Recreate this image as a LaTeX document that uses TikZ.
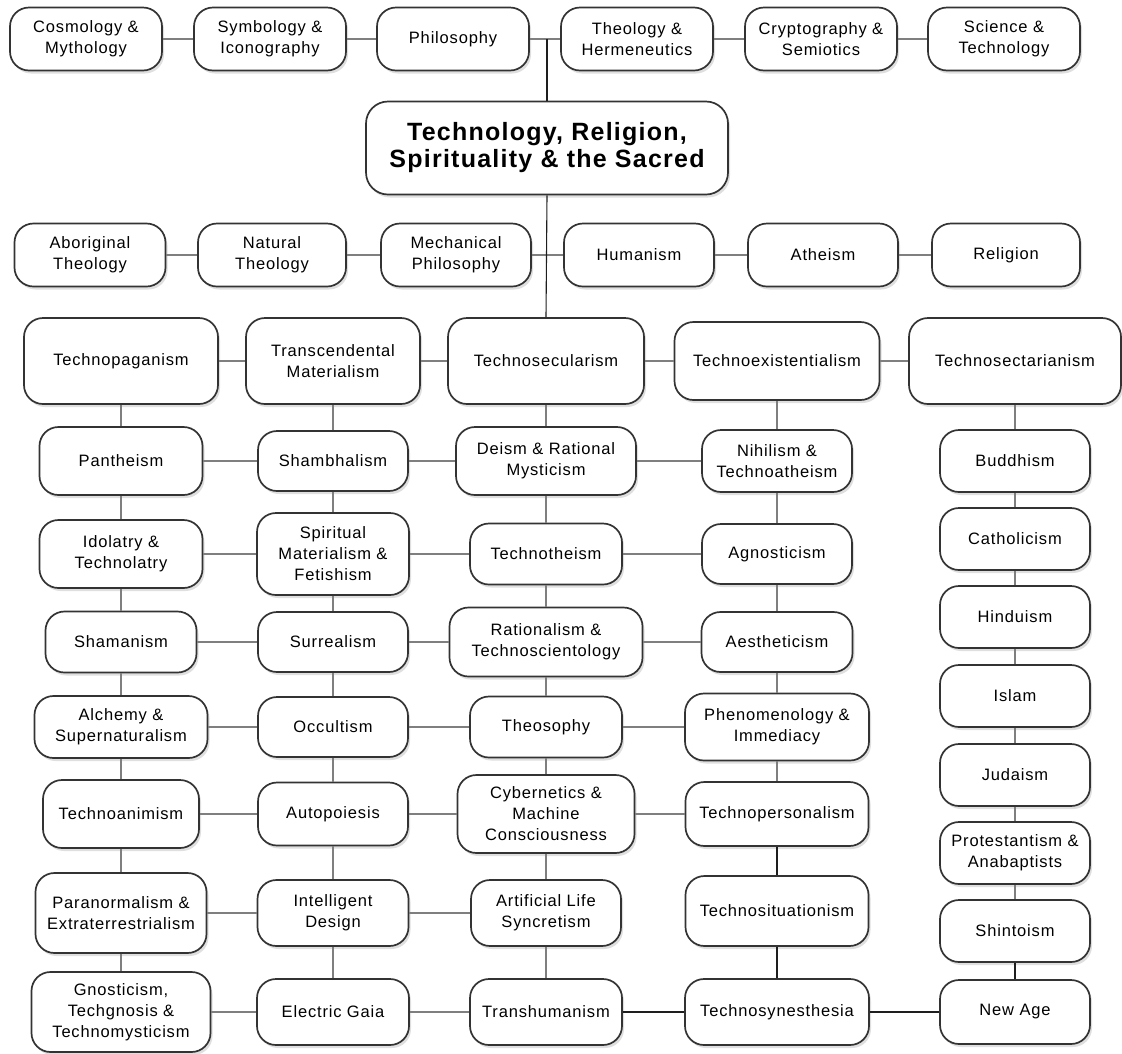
\documentclass[tikz,border=0pt]{standalone}
\usepackage{fontspec}
\setmainfont{Liberation Sans}[LetterSpace=5]
\usepackage{tikz}
\usetikzlibrary{shadows}
\definecolor{rim}{HTML}{333333}
\definecolor{wire}{HTML}{7F7F7F}
\definecolor{spine}{HTML}{1E1E1E}

\begin{document}
\begin{tikzpicture}[x=1pt,y=-1pt,
  box/.style={draw=rim,line width=1.7pt,fill=white,rounded corners=19pt,align=center,inner sep=0pt,
    font=\fontsize{16.5}{21}\selectfont,drop shadow={shadow xshift=2pt,shadow yshift=-3pt,fill=black!25}},
  link/.style={wire,line width=2.2pt},
  main/.style={spine,line width=1.1pt}]
\newcommand{\bx}[6]{\node[box,minimum width=#4pt,minimum height=#5pt] (#1) at (#2,#3) {#6};}
\useasboundingbox (0,0) rectangle (1122,1053);
% top row
\bx{cosmo}{86}{39}{152}{63}{Cosmology \&\\Mythology}
\bx{symb}{270}{39}{152}{63}{Symbology \&\\Iconography}
\bx{philo}{453}{39}{152}{63}{Philosophy}
\bx{theo}{637}{39}{152}{63}{Theology \&\\Hermeneutics}
\bx{crypt}{821}{39}{152}{63}{Cryptography \&\\Semiotics}
\bx{sci}{1004}{39}{152}{63}{Science \&\\Technology}
\node[box,rounded corners=22pt,minimum width=362pt,minimum height=93pt,font=\fontsize{25}{27}\selectfont\bfseries] (core) at (547,148) {Technology, Religion,\\Spirituality \& the Sacred};
% second row
\bx{abor}{90}{255}{151}{63}{Aboriginal\\Theology}
\bx{natth}{272}{255}{148}{63}{Natural\\Theology}
\bx{mech}{456}{255}{150}{63}{Mechanical\\Philosophy}
\bx{human}{639}{255}{150}{63}{Humanism}
\bx{athe}{823}{255}{150}{63}{Atheism}
\bx{relig}{1006}{255}{148}{63}{Religion}
% the five branches
\bx{tpag}{121}{361}{194}{86}{Technopaganism}
\bx{trans}{333}{361}{174}{86}{Transcendental\\Materialism}
\bx{tsec}{546}{361}{196}{86}{Technosecularism}
\bx{texist}{777}{361}{205}{78}{Technoexistentialism}
\bx{tsect}{1015}{361}{212}{86}{Technosectarianism}
% column 1
\bx{panth}{121}{461}{163}{68}{Pantheism}
\bx{idol}{121}{554}{163}{68}{Idolatry \&\\Technolatry}
\bx{shaman}{121}{642}{151}{61}{Shamanism}
\bx{alch}{121}{727}{173}{62}{Alchemy \&\\Supernaturalism}
\bx{tanim}{121}{814}{156}{68}{Technoanimism}
\bx{paran}{121}{913}{171}{80}{Paranormalism \&\\Extraterrestrialism}
\bx{gnost}{121}{1012}{179}{80}{Gnosticism,\\Techgnosis \&\\Technomysticism}
% column 2
\bx{shamb}{333}{461}{150}{60}{Shambhalism}
\bx{spirit}{333}{554}{152}{82}{Spiritual\\Materialism \&\\Fetishism}
\bx{surr}{333}{642}{150}{60}{Surrealism}
\bx{occ}{333}{727}{150}{60}{Occultism}
\bx{auto}{333}{814}{150}{63}{Autopoiesis}
\bx{intel}{333}{913}{151}{66}{Intelligent\\Design}
\bx{egaia}{333}{1012}{152}{66}{Electric Gaia}
% column 3
\bx{deism}{546}{461}{180}{68}{Deism \& Rational\\Mysticism}
\bx{ttheism}{546}{554}{152}{61}{Technotheism}
\bx{ration}{546}{642}{193}{69}{Rationalism \&\\Technoscientology}
\bx{theos}{546}{727}{152}{61}{Theosophy}
\bx{cyber}{546}{814}{177}{78}{Cybernetics \&\\Machine\\Consciousness}
\bx{alife}{546}{913}{150}{66}{Artificial Life\\Syncretism}
\bx{thuman}{546}{1012}{152}{66}{Transhumanism}
% column 4
\bx{nihil}{777}{461}{150}{62}{Nihilism \&\\Technoatheism}
\bx{agnos}{777}{554}{150}{60}{Agnosticism}
\bx{aesth}{777}{642}{151}{60}{Aestheticism}
\bx{phen}{777}{727}{184}{67}{Phenomenology \&\\Immediacy}
\bx{tpers}{777}{814}{183}{64}{Technopersonalism}
\bx{tsit}{777}{911}{183}{70}{Technosituationism}
\bx{tsyn}{777}{1012}{184}{66}{Technosynesthesia}
% column 5
\bx{budd}{1015}{461}{150}{62}{Buddhism}
\bx{cath}{1015}{539}{150}{62}{Catholicism}
\bx{hind}{1015}{617}{150}{62}{Hinduism}
\bx{islam}{1015}{696}{150}{62}{Islam}
\bx{juda}{1015}{775}{150}{62}{Judaism}
\bx{prot}{1015}{853}{150}{62}{Protestantism \&\\Anabaptists}
\bx{shin}{1015}{931}{150}{62}{Shintoism}
\bx{newage}{1015}{1012}{150}{64}{New Age}
% connectors
\foreach \a/\b in {cosmo/symb,symb/philo,philo/theo,theo/crypt,crypt/sci,
  abor/natth,natth/mech,mech/human,human/athe,athe/relig,
  tpag/trans,trans/tsec,tsec/texist,texist/tsect,
  panth/shamb,shamb/deism,deism/nihil,idol/spirit,spirit/ttheism,ttheism/agnos,
  shaman/surr,surr/ration,ration/aesth,alch/occ,occ/theos,theos/phen,
  tanim/auto,auto/cyber,cyber/tpers,paran/intel,intel/alife,gnost/egaia,egaia/thuman}
  \draw[link] (\a) -- (\b);
\foreach \a/\b in {tpag/panth,panth/idol,idol/shaman,shaman/alch,alch/tanim,tanim/paran,paran/gnost,
  trans/shamb,shamb/spirit,spirit/surr,surr/occ,occ/auto,auto/intel,intel/egaia,
  tsec/deism,deism/ttheism,ttheism/ration,ration/theos,theos/cyber,cyber/alife,alife/thuman,
  texist/nihil,nihil/agnos,agnos/aesth,aesth/phen,phen/tpers,
  tsect/budd,budd/cath,cath/hind,hind/islam,islam/juda,juda/prot,prot/shin}
  \draw[link] (\a) -- (\b);
\draw[main] (core.north) -- (core.north |- philo.east);
\draw[main] (core.south) -- (tsec.north);
\foreach \a/\b in {tpers/tsit,tsit/tsyn,thuman/tsyn,tsyn/newage,shin/newage}
  \draw[main] (\a) -- (\b);
\end{tikzpicture}
\end{document}
